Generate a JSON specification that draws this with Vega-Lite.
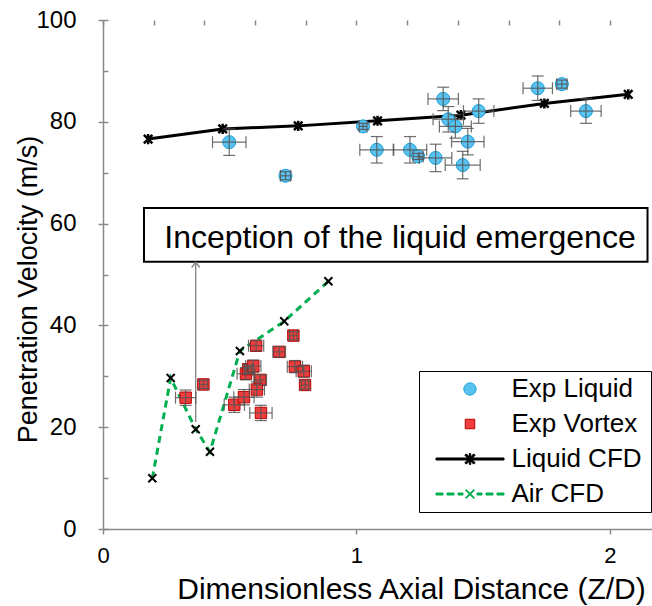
{
  "$schema": "https://vega.github.io/schema/vega-lite/v6.json",
  "autosize": {"type": "none"},
  "width": 549,
  "height": 509,
  "padding": {"left": 103, "top": 20, "right": 0, "bottom": 77},
  "background": "white",
  "config": {"view": {"stroke": null}, "font": "Liberation Sans"},
  "datasets": {
    "box": [{"x1": 0.1617, "x2": 2.148, "y1": 52.5, "y2": 63.06}],
    "note": [{"x": 1.1716, "y": 55.15, "text": "Inception of the liquid emergence"}],
    "arrow": [{"x": 0.3657, "y1": 21.0, "y2": 52.4}],
    "exp": [
      {"series": "Exp Liquid", "x": 0.498, "y": 76.0, "xlo": 0.432, "xhi": 0.564, "ylo": 73.4, "yhi": 78.6},
      {"series": "Exp Liquid", "x": 0.72, "y": 69.4, "xlo": 0.70, "xhi": 0.74, "ylo": 68.6, "yhi": 70.2},
      {"series": "Exp Liquid", "x": 1.026, "y": 79.1, "xlo": 1.011, "xhi": 1.041, "ylo": 78.5, "yhi": 79.7},
      {"series": "Exp Liquid", "x": 1.08, "y": 74.5, "xlo": 1.013, "xhi": 1.147, "ylo": 71.9, "yhi": 77.1},
      {"series": "Exp Liquid", "x": 1.211, "y": 74.5, "xlo": 1.145, "xhi": 1.277, "ylo": 71.9, "yhi": 77.1},
      {"series": "Exp Liquid", "x": 1.243, "y": 73.2, "xlo": 1.223, "xhi": 1.263, "ylo": 72.6, "yhi": 73.8},
      {"series": "Exp Liquid", "x": 1.312, "y": 72.9, "xlo": 1.248, "xhi": 1.376, "ylo": 70.2, "yhi": 75.6},
      {"series": "Exp Liquid", "x": 1.342, "y": 84.5, "xlo": 1.282, "xhi": 1.402, "ylo": 82.2, "yhi": 86.8},
      {"series": "Exp Liquid", "x": 1.362, "y": 80.5, "xlo": 1.302, "xhi": 1.422, "ylo": 78.0, "yhi": 83.0},
      {"series": "Exp Liquid", "x": 1.39, "y": 79.1, "xlo": 1.327, "xhi": 1.453, "ylo": 76.8, "yhi": 81.4},
      {"series": "Exp Liquid", "x": 1.439, "y": 76.1, "xlo": 1.375, "xhi": 1.503, "ylo": 73.5, "yhi": 78.7},
      {"series": "Exp Liquid", "x": 1.419, "y": 71.5, "xlo": 1.35, "xhi": 1.488, "ylo": 68.8, "yhi": 74.2},
      {"series": "Exp Liquid", "x": 1.482, "y": 82.1, "xlo": 1.422, "xhi": 1.542, "ylo": 79.7, "yhi": 84.5},
      {"series": "Exp Liquid", "x": 1.715, "y": 86.6, "xlo": 1.657, "xhi": 1.773, "ylo": 84.2, "yhi": 89.0},
      {"series": "Exp Liquid", "x": 1.81, "y": 87.4, "xlo": 1.79, "xhi": 1.83, "ylo": 86.6, "yhi": 88.2},
      {"series": "Exp Liquid", "x": 1.905, "y": 82.1, "xlo": 1.845, "xhi": 1.965, "ylo": 79.7, "yhi": 84.5},
      {"series": "Exp Vortex", "x": 0.326, "y": 25.8, "xlo": 0.286, "xhi": 0.366, "ylo": 24.3, "yhi": 27.3},
      {"series": "Exp Vortex", "x": 0.396, "y": 28.4, "xlo": 0.381, "xhi": 0.411, "ylo": 27.6, "yhi": 29.2},
      {"series": "Exp Vortex", "x": 0.518, "y": 24.4, "xlo": 0.478, "xhi": 0.558, "ylo": 22.9, "yhi": 25.9},
      {"series": "Exp Vortex", "x": 0.556, "y": 25.9, "xlo": 0.516, "xhi": 0.596, "ylo": 24.4, "yhi": 27.4},
      {"series": "Exp Vortex", "x": 0.564, "y": 30.5, "xlo": 0.529, "xhi": 0.599, "ylo": 29.3, "yhi": 31.7},
      {"series": "Exp Vortex", "x": 0.573, "y": 31.4, "xlo": 0.558, "xhi": 0.588, "ylo": 30.6, "yhi": 32.2},
      {"series": "Exp Vortex", "x": 0.593, "y": 32.0, "xlo": 0.563, "xhi": 0.623, "ylo": 30.8, "yhi": 33.2},
      {"series": "Exp Vortex", "x": 0.604, "y": 36.0, "xlo": 0.574, "xhi": 0.634, "ylo": 35.0, "yhi": 37.0},
      {"series": "Exp Vortex", "x": 0.62, "y": 29.3, "xlo": 0.595, "xhi": 0.645, "ylo": 28.3, "yhi": 30.3},
      {"series": "Exp Vortex", "x": 0.607, "y": 27.4, "xlo": 0.577, "xhi": 0.637, "ylo": 25.9, "yhi": 28.9},
      {"series": "Exp Vortex", "x": 0.623, "y": 22.8, "xlo": 0.579, "xhi": 0.667, "ylo": 21.3, "yhi": 24.3},
      {"series": "Exp Vortex", "x": 0.695, "y": 34.8, "xlo": 0.67, "xhi": 0.72, "ylo": 33.8, "yhi": 35.8},
      {"series": "Exp Vortex", "x": 0.751, "y": 38.0, "xlo": 0.736, "xhi": 0.766, "ylo": 37.2, "yhi": 38.8},
      {"series": "Exp Vortex", "x": 0.757, "y": 31.9, "xlo": 0.727, "xhi": 0.787, "ylo": 30.7, "yhi": 33.1},
      {"series": "Exp Vortex", "x": 0.792, "y": 31.0, "xlo": 0.762, "xhi": 0.822, "ylo": 29.8, "yhi": 32.2},
      {"series": "Exp Vortex", "x": 0.797, "y": 28.3, "xlo": 0.782, "xhi": 0.812, "ylo": 27.5, "yhi": 29.1}
    ],
    "liqcfd": [
      {"x": 0.178, "y": 76.6}, {"x": 0.472, "y": 78.6}, {"x": 0.77, "y": 79.2},
      {"x": 1.083, "y": 80.2}, {"x": 1.412, "y": 81.3}, {"x": 1.741, "y": 83.6}, {"x": 2.072, "y": 85.4}
    ],
    "aircfd": [
      {"x": 0.1945, "y": 9.96}, {"x": 0.267, "y": 29.67}, {"x": 0.3657, "y": 19.59},
      {"x": 0.422, "y": 15.19}, {"x": 0.54, "y": 34.97}, {"x": 0.715, "y": 40.8}, {"x": 0.889, "y": 48.66}
    ]
  },
  "layer": [
    {
      "data": {"name": "box"},
      "mark": {"type": "rect", "fill": "white", "stroke": "black", "strokeWidth": 2},
      "encoding": {
        "x": {"field": "x1", "type": "quantitative", "scale": {"domain": [0, 2.1657], "nice": false, "zero": false},
          "axis": {
            "title": "Dimensionless Axial Distance (Z/D)",
            "values": [0, 0.1, 0.2, 0.3, 0.4, 0.5, 0.6, 0.7, 0.8, 0.9, 1, 1.1, 1.2, 1.3, 1.4, 1.5, 1.6, 1.7, 1.8, 1.9, 2, 2.1],
            "labelExpr": "round(datum.value*10) % 10 === 0 ? format(datum.value, 'd') : ''",
            "labelOverlap": false, "labelFlush": false, "labelFont": "Liberation Sans", "labelFontSize": 22, "labelColor": "black", "labelPadding": 11,
            "tickSize": 5, "tickColor": "#8a8a8a", "tickWidth": 1.5,
            "tickOpacity": {"condition": {"test": "round(datum.value*10) % 10 === 0", "value": 1}, "value": 0},
            "domainColor": "#8a8a8a", "domainWidth": 1.5,
            "grid": true, "gridColor": "#8a8a8a", "gridWidth": 1.5, "gridDash": [5, 3000],
            "titleFont": "Liberation Sans", "titleFontSize": 30, "titleFontWeight": "normal", "titleColor": "black",
            "titleX": 308, "titleY": 69, "titleBaseline": "alphabetic", "titleAlign": "center"
          }},
        "x2": {"field": "x2"},
        "y": {"field": "y1", "type": "quantitative", "scale": {"domain": [0, 100], "nice": false, "zero": false},
          "axis": {
            "title": "Penetration Velocity (m/s)",
            "values": [0, 5, 10, 15, 20, 25, 30, 35, 40, 45, 50, 55, 60, 65, 70, 75, 80, 85, 90, 95, 100],
            "labelExpr": "datum.value % 20 === 0 ? format(datum.value, 'd') : ''",
            "labelOverlap": false, "labelFlush": false, "labelFont": "Liberation Sans", "labelFontSize": 24, "labelColor": "black", "labelPadding": 22,
            "tickSize": 5, "tickColor": "#8a8a8a", "tickWidth": 1.5,
            "tickOpacity": {"condition": {"test": "datum.value % 20 === 0", "value": 1}, "value": 0},
            "domainColor": "#8a8a8a", "domainWidth": 1.5,
            "grid": true, "gridColor": "#8a8a8a", "gridWidth": 1.5, "gridDash": [5, 3000],
            "titleFont": "Liberation Sans", "titleFontSize": 27, "titleFontWeight": "normal", "titleColor": "black",
            "titleX": -67, "titleY": 269, "titleBaseline": "alphabetic", "titleAlign": "center", "titleAngle": 270
          }},
        "y2": {"field": "y2"}
      }
    },
    {
      "data": {"name": "note"},
      "mark": {"type": "text", "font": "Liberation Sans", "fontSize": 32, "color": "black", "align": "center", "baseline": "alphabetic"},
      "encoding": {
        "x": {"field": "x", "type": "quantitative", "scale": {"domain": [0, 2.1657], "nice": false, "zero": false}},
        "y": {"field": "y", "type": "quantitative", "scale": {"domain": [0, 100], "nice": false, "zero": false}},
        "text": {"field": "text"}
      }
    },
    {
      "data": {"name": "arrow"},
      "mark": {"type": "rule", "color": "#808080", "strokeWidth": 1.3},
      "encoding": {
        "x": {"field": "x", "type": "quantitative", "scale": {"domain": [0, 2.1657], "nice": false, "zero": false}},
        "y": {"field": "y1", "type": "quantitative", "scale": {"domain": [0, 100], "nice": false, "zero": false}},
        "y2": {"field": "y2"}
      }
    },
    {
      "data": {"name": "arrow"},
      "mark": {"type": "point", "shape": "M-1,1.3L0,0L1,1.3", "filled": false, "stroke": "#808080", "strokeWidth": 1.3, "size": 64, "opacity": 1},
      "encoding": {
        "x": {"field": "x", "type": "quantitative", "scale": {"domain": [0, 2.1657], "nice": false, "zero": false}},
        "y": {"field": "y2", "type": "quantitative", "scale": {"domain": [0, 100], "nice": false, "zero": false}}
      }
    },
    {
      "data": {"name": "aircfd"},
      "mark": {"type": "line", "color": "#00b050", "strokeWidth": 3, "strokeDash": [7, 5]},
      "encoding": {
        "x": {"field": "x", "type": "quantitative", "scale": {"domain": [0, 2.1657], "nice": false, "zero": false}},
        "y": {"field": "y", "type": "quantitative", "scale": {"domain": [0, 100], "nice": false, "zero": false}}
      }
    },
    {
      "data": {"name": "aircfd"},
      "mark": {"type": "point", "shape": "M-1,-1L1,1M-1,1L1,-1", "filled": false, "stroke": "black", "strokeWidth": 2, "size": 64, "opacity": 1},
      "encoding": {
        "x": {"field": "x", "type": "quantitative", "scale": {"domain": [0, 2.1657], "nice": false, "zero": false}},
        "y": {"field": "y", "type": "quantitative", "scale": {"domain": [0, 100], "nice": false, "zero": false}}
      }
    },
    {
      "data": {"name": "liqcfd"},
      "mark": {"type": "line", "color": "black", "strokeWidth": 3},
      "encoding": {
        "x": {"field": "x", "type": "quantitative", "scale": {"domain": [0, 2.1657], "nice": false, "zero": false}},
        "y": {"field": "y", "type": "quantitative", "scale": {"domain": [0, 100], "nice": false, "zero": false}}
      }
    },
    {
      "data": {"name": "liqcfd"},
      "mark": {"type": "point", "shape": "M-1,-1L1,1M-1,1L1,-1M0,-1.2L0,1.2", "filled": false, "stroke": "black", "strokeWidth": 2.5, "size": 72, "opacity": 1},
      "encoding": {
        "x": {"field": "x", "type": "quantitative", "scale": {"domain": [0, 2.1657], "nice": false, "zero": false}},
        "y": {"field": "y", "type": "quantitative", "scale": {"domain": [0, 100], "nice": false, "zero": false}}
      }
    },
    {
      "data": {"name": "exp"},
      "transform": [{"filter": "datum.series === 'Exp Liquid'"}],
      "mark": {"type": "point", "shape": "circle", "filled": true, "fill": "#58c2f0", "stroke": "#1a9fd9", "strokeWidth": 1, "size": 170, "opacity": 1},
      "encoding": {
        "x": {"field": "x", "type": "quantitative", "scale": {"domain": [0, 2.1657], "nice": false, "zero": false}},
        "y": {"field": "y", "type": "quantitative", "scale": {"domain": [0, 100], "nice": false, "zero": false}}
      }
    },
    {
      "data": {"name": "exp"},
      "transform": [{"filter": "datum.series === 'Exp Vortex'"}],
      "mark": {"type": "point", "shape": "square", "filled": true, "fill": "#ee3d3d", "stroke": "#c00000", "strokeWidth": 1, "size": 130, "opacity": 1},
      "encoding": {
        "x": {"field": "x", "type": "quantitative", "scale": {"domain": [0, 2.1657], "nice": false, "zero": false}},
        "y": {"field": "y", "type": "quantitative", "scale": {"domain": [0, 100], "nice": false, "zero": false}}
      }
    },
    {
      "data": {"name": "exp"},
      "mark": {"type": "rule", "color": "#555555", "strokeWidth": 1.2, "opacity": 0.85},
      "encoding": {
        "x": {"field": "xlo", "type": "quantitative", "scale": {"domain": [0, 2.1657], "nice": false, "zero": false}},
        "x2": {"field": "xhi"},
        "y": {"field": "y", "type": "quantitative", "scale": {"domain": [0, 100], "nice": false, "zero": false}}
      }
    },
    {
      "data": {"name": "exp"},
      "mark": {"type": "rule", "color": "#555555", "strokeWidth": 1.2, "opacity": 0.85},
      "encoding": {
        "x": {"field": "x", "type": "quantitative", "scale": {"domain": [0, 2.1657], "nice": false, "zero": false}},
        "y": {"field": "ylo", "type": "quantitative", "scale": {"domain": [0, 100], "nice": false, "zero": false}},
        "y2": {"field": "yhi"}
      }
    },
    {
      "data": {"name": "exp"},
      "mark": {"type": "tick", "orient": "vertical", "color": "#555555", "size": 12, "thickness": 1.2, "opacity": 0.85},
      "encoding": {
        "x": {"field": "xlo", "type": "quantitative", "scale": {"domain": [0, 2.1657], "nice": false, "zero": false}},
        "y": {"field": "y", "type": "quantitative", "scale": {"domain": [0, 100], "nice": false, "zero": false}}
      }
    },
    {
      "data": {"name": "exp"},
      "mark": {"type": "tick", "orient": "vertical", "color": "#555555", "size": 12, "thickness": 1.2, "opacity": 0.85},
      "encoding": {
        "x": {"field": "xhi", "type": "quantitative", "scale": {"domain": [0, 2.1657], "nice": false, "zero": false}},
        "y": {"field": "y", "type": "quantitative", "scale": {"domain": [0, 100], "nice": false, "zero": false}}
      }
    },
    {
      "data": {"name": "exp"},
      "mark": {"type": "tick", "orient": "horizontal", "color": "#555555", "size": 12, "thickness": 1.2, "opacity": 0.85},
      "encoding": {
        "x": {"field": "x", "type": "quantitative", "scale": {"domain": [0, 2.1657], "nice": false, "zero": false}},
        "y": {"field": "ylo", "type": "quantitative", "scale": {"domain": [0, 100], "nice": false, "zero": false}}
      }
    },
    {
      "data": {"name": "exp"},
      "mark": {"type": "tick", "orient": "horizontal", "color": "#555555", "size": 12, "thickness": 1.2, "opacity": 0.85},
      "encoding": {
        "x": {"field": "x", "type": "quantitative", "scale": {"domain": [0, 2.1657], "nice": false, "zero": false}},
        "y": {"field": "yhi", "type": "quantitative", "scale": {"domain": [0, 100], "nice": false, "zero": false}}
      }
    },
    {
      "data": {"name": "exp"},
      "mark": {"type": "point", "filled": true, "opacity": 0},
      "encoding": {
        "x": {"field": "x", "type": "quantitative", "scale": {"domain": [0, 2.1657], "nice": false, "zero": false}},
        "y": {"field": "y", "type": "quantitative", "scale": {"domain": [0, 100], "nice": false, "zero": false}},
        "shape": {"field": "series", "type": "nominal",
          "scale": {"domain": ["Exp Liquid", "Exp Vortex", "Liquid CFD", "Air CFD"],
            "range": [
              "M-0.18,0A0.18,0.18 0 1,1 0.18,0A0.18,0.18 0 1,1 -0.18,0Z",
              "M-0.14,-0.14H0.14V0.14H-0.14Z",
              "M-1,-0.03H1V0.03H-1ZM-0.02,-0.16H0.02V0.16H-0.02ZM-0.109,-0.151L0.151,0.109L0.109,0.151L-0.151,-0.109ZM-0.151,0.109L0.109,-0.151L0.151,-0.109L-0.109,0.151Z",
              "M-1,-0.03H-0.794V0.03H-1ZM-0.676,-0.03H-0.471V0.03H-0.676ZM-0.353,-0.03H-0.206V0.03H-0.353ZM0.206,-0.03H0.353V0.03H0.206ZM0.471,-0.03H0.676V0.03H0.471ZM0.794,-0.03H1V0.03H0.794ZM-0.109,-0.131L0.131,0.109L0.109,0.131L-0.131,-0.109ZM-0.131,0.109L0.109,-0.131L0.131,-0.109L-0.109,0.131Z"
            ]},
          "legend": {
            "orient": "none", "legendX": 316, "legendY": 351,
            "title": "\u2003\u2003", "titleOrient": "right", "titleColor": "transparent", "titleFontSize": 12, "titlePadding": 4,
            "padding": 5, "symbolOffset": 11.5, "labelOffset": 7, "rowPadding": 9, "clipHeight": 26,
            "labelFont": "Liberation Sans", "labelFontSize": 26, "labelColor": "black", "labelLimit": 500,
            "strokeColor": "black", "fillColor": "white", "symbolSize": 4624, "symbolOpacity": 1, "symbolStrokeWidth": 1
          }},
        "fill": {"field": "series", "type": "nominal",
          "scale": {"domain": ["Exp Liquid", "Exp Vortex", "Liquid CFD", "Air CFD"], "range": ["#58c2f0", "#ee3d3d", "black", "#00b050"]}},
        "stroke": {"field": "series", "type": "nominal",
          "scale": {"domain": ["Exp Liquid", "Exp Vortex", "Liquid CFD", "Air CFD"], "range": ["#1a9fd9", "#c00000", "black", "#00b050"]}}
      }
    }
  ]
}
